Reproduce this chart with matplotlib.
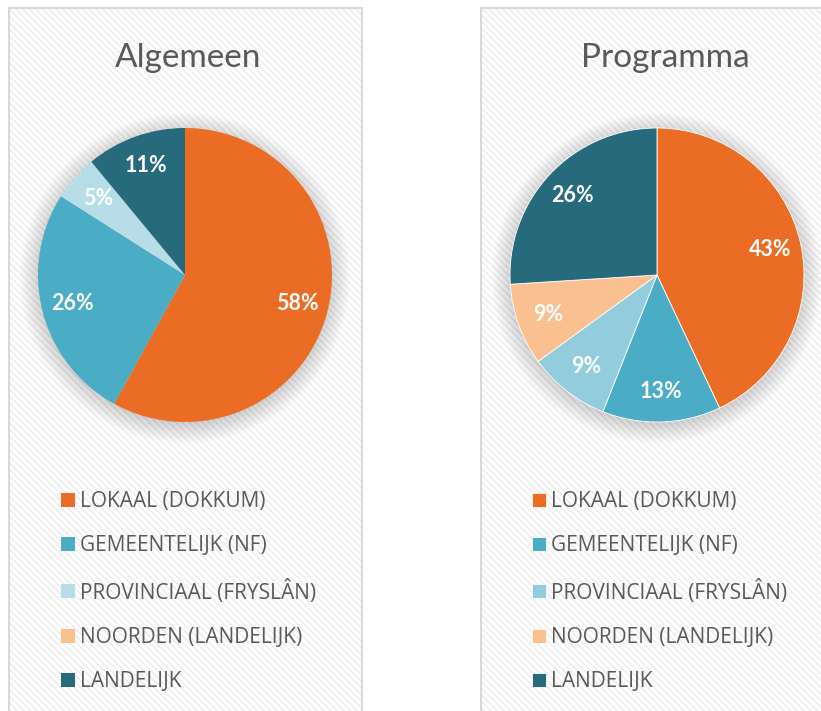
import matplotlib.pyplot as plt
from matplotlib.patches import Rectangle, Circle

categories = ['LOKAAL (DOKKUM)', 'GEMEENTELIJK (NF)', 'PROVINCIAAL (FRYSLÂN)',
              'NOORDEN (LANDELIJK)', 'LANDELIJK']
algemeen = [58, 26, 5, 0, 11]
programma = [43, 13, 9, 9, 26]

colors_left = ['#EB6D25', '#4BACC6', '#B7DEE8', '#FAC090', '#276A7C']
colors_right = ['#EB6D25', '#4BACC6', '#93CDDD', '#FAC090', '#276A7C']

W, H = 821, 711
fig = plt.figure(figsize=(W / 100, H / 100), dpi=100)
fig.patch.set_facecolor('white')
grey = '#595959'


def px(x0, y0, x1, y1):
    # pixel box (top-left origin) -> figure fraction rect
    return [x0 / W, 1 - y1 / H, (x1 - x0) / W, (y1 - y0) / H]


def panel(x0, x1):
    r = px(x0, 8, x1, H + 5)
    fig.patches.append(Rectangle((r[0], r[1]), r[2], r[3], transform=fig.transFigure,
                                 facecolor='white', edgecolor='#ebebeb', hatch='\\\\\\\\\\',
                                 lw=0, zorder=-2))
    fig.patches.append(Rectangle((r[0], r[1]), r[2], r[3], transform=fig.transFigure,
                                 facecolor='none', edgecolor='#d9d9d9', lw=1.5, zorder=-1))


def draw(values, colors, title, cx, title_x, leg_x, edge):
    r = 147
    ax = fig.add_axes(px(cx - r, 275 - r, cx + r, 275 + r))
    ax.set_zorder(5)
    # soft shadow
    for i in range(22):
        ax.add_patch(Circle((0, -0.02), 0.99 + 0.0065 * i, color='black', alpha=0.0065,
                            lw=0, zorder=0, clip_on=False))
    wedges, _, autotexts = ax.pie(
        values, colors=colors, startangle=90, counterclock=False,
        autopct=lambda p: f'{p:.0f}%' if p > 0.5 else '', pctdistance=0.79,
        wedgeprops=dict(edgecolor='white' if edge else 'none', linewidth=0.6),
        textprops=dict(color='white', fontsize=15.5, fontweight='bold', family='Lato'))
    for w in wedges:
        w.set_zorder(2)
    for t in autotexts:
        t.set_zorder(3)
    ax.set_xlim(-1, 1)
    ax.set_ylim(-1, 1)
    ax.set_aspect('equal')
    ax.axis('off')
    fig.text(title_x / W, 1 - 58 / H, title, ha='center', va='center',
             fontsize=24, color=grey, family='Lato')
    fig.legend(wedges, categories, loc='upper left',
               bbox_to_anchor=(leg_x / W, 1 - 491 / H), frameon=False,
               prop=dict(family='Open Sans', size=15), labelcolor=grey,
               handlelength=0.67, handleheight=0.67, handletextpad=0.25,
               labelspacing=1.12, borderpad=0, borderaxespad=0)


panel(9, 362)
panel(481, W + 10)
draw(algemeen, colors_left, 'Algemeen', 185, 188, 61, False)
draw(programma, colors_right, 'Programma', 657, 665, 532, True)

fig.savefig('out.png', dpi=100)
